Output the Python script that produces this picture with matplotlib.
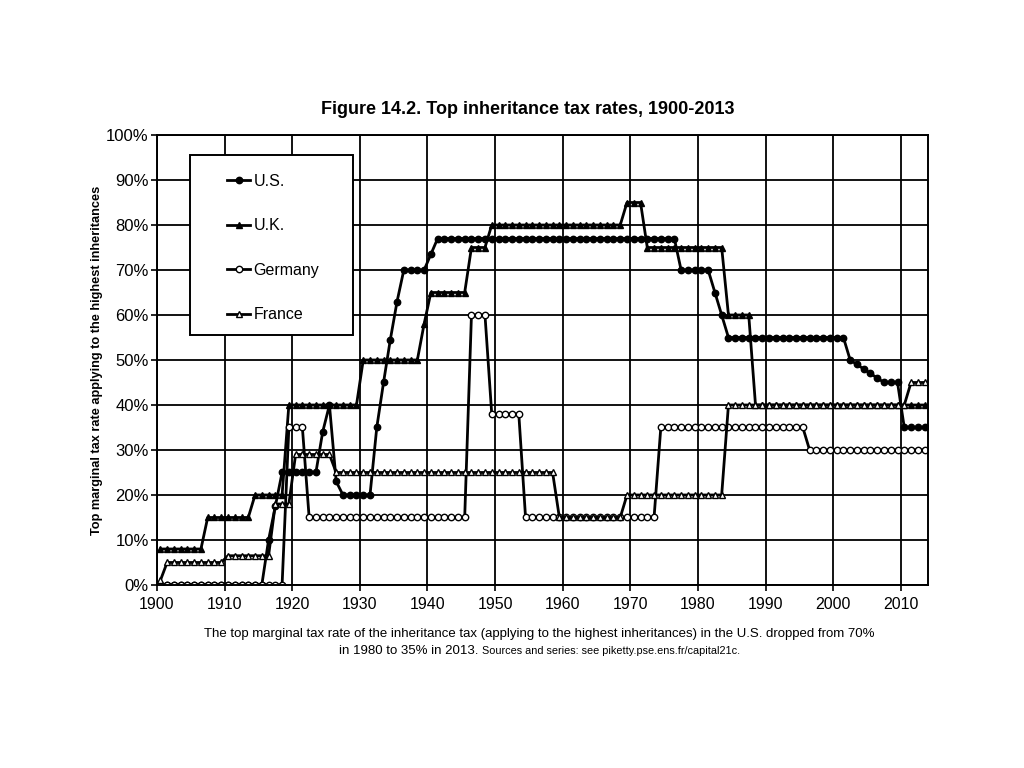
"""
Figure 14.2 - Top inheritance tax rates, 1900-2013 (U.S., U.K., Germany, France).
"""

import matplotlib

matplotlib.use("Agg")

import matplotlib.pyplot as plt
import numpy as np
from matplotlib import font_manager
from matplotlib.patches import Rectangle


# -----------------------------
# Data (top marginal inheritance tax rate, %, one value per year 1900-2013)
# -----------------------------
YEARS = list(range(1900, 2014))

US = [
    0, 0, 0, 0, 0, 0, 0, 0, 0, 0,                      # 1900s
    0, 0, 0, 0, 0, 0, 10, 17.5, 25, 25,                # 1910s
    25, 25, 25, 25, 34, 40, 23, 20, 20, 20,            # 1920s
    20, 20, 35, 45, 54.5, 63, 70, 70, 70, 70,          # 1930s
    73.5, 77, 77, 77, 77, 77, 77, 77, 77, 77,          # 1940s
    77, 77, 77, 77, 77, 77, 77, 77, 77, 77,            # 1950s
    77, 77, 77, 77, 77, 77, 77, 77, 77, 77,            # 1960s
    77, 77, 77, 77, 77, 77, 77, 70, 70, 70,            # 1970s
    70, 70, 65, 60, 55, 55, 55, 55, 55, 55,            # 1980s
    55, 55, 55, 55, 55, 55, 55, 55, 55, 55,            # 1990s
    55, 55, 50, 49, 48, 47, 46, 45, 45, 45,            # 2000s
    35, 35, 35, 35,                                    # 2010-2013
]

UK = [
    8, 8, 8, 8, 8, 8, 8, 15, 15, 15,
    15, 15, 15, 15, 20, 20, 20, 20, 20, 40,
    40, 40, 40, 40, 40, 40, 40, 40, 40, 40,
    50, 50, 50, 50, 50, 50, 50, 50, 50, 58,
    65, 65, 65, 65, 65, 65, 75, 75, 75, 80,
    80, 80, 80, 80, 80, 80, 80, 80, 80, 80,
    80, 80, 80, 80, 80, 80, 80, 80, 80, 85,
    85, 85, 75, 75, 75, 75, 75, 75, 75, 75,
    75, 75, 75, 75, 60, 60, 60, 60, 40, 40,
    40, 40, 40, 40, 40, 40, 40, 40, 40, 40,
    40, 40, 40, 40, 40, 40, 40, 40, 40, 40,
    40, 40, 40, 40,
]

GERMANY = [
    0, 0, 0, 0, 0, 0, 0, 0, 0, 0,
    0, 0, 0, 0, 0, 0, 0, 0, 0, 35,
    35, 35, 15, 15, 15, 15, 15, 15, 15, 15,
    15, 15, 15, 15, 15, 15, 15, 15, 15, 15,
    15, 15, 15, 15, 15, 15, 60, 60, 60, 38,
    38, 38, 38, 38, 15, 15, 15, 15, 15, 15,
    15, 15, 15, 15, 15, 15, 15, 15, 15, 15,
    15, 15, 15, 15, 35, 35, 35, 35, 35, 35,
    35, 35, 35, 35, 35, 35, 35, 35, 35, 35,
    35, 35, 35, 35, 35, 35, 30, 30, 30, 30,
    30, 30, 30, 30, 30, 30, 30, 30, 30, 30,
    30, 30, 30, 30,
]

FRANCE = [
    1, 5, 5, 5, 5, 5, 5, 5, 5, 5,
    6.5, 6.5, 6.5, 6.5, 6.5, 6.5, 6.5, 18, 18, 18,
    29, 29, 29, 29, 29, 29, 25, 25, 25, 25,
    25, 25, 25, 25, 25, 25, 25, 25, 25, 25,
    25, 25, 25, 25, 25, 25, 25, 25, 25, 25,
    25, 25, 25, 25, 25, 25, 25, 25, 25, 15,
    15, 15, 15, 15, 15, 15, 15, 15, 15, 20,
    20, 20, 20, 20, 20, 20, 20, 20, 20, 20,
    20, 20, 20, 20, 40, 40, 40, 40, 40, 40,
    40, 40, 40, 40, 40, 40, 40, 40, 40, 40,
    40, 40, 40, 40, 40, 40, 40, 40, 40, 40,
    40, 45, 45, 45,
]

DECADES = list(range(1900, 2011, 10))
Y_TICKS = list(range(0, 101, 10))

TITLE = "Figure 14.2. Top inheritance tax rates, 1900-2013"
Y_LABEL = "Top marginal tax rate applying to the highest inheritances"
NOTE_1 = ("The top marginal tax rate of the inheritance tax (applying to the highest "
          "inheritances) in the U.S. dropped from 70%")
NOTE_2A = "in 1980 to 35% in 2013. "
NOTE_2B = "Sources and series: see piketty.pse.ens.fr/capital21c."


def pick_font() -> str:
    names = {f.name for f in font_manager.fontManager.ttflist}
    for name in ("Liberation Sans Narrow", "Liberation Sans", "DejaVu Sans"):
        if name in names:
            return name
    return "DejaVu Sans"


FONT = pick_font()
plt.rcParams["font.family"] = [FONT, "DejaVu Sans"]


def main() -> None:
    fig = plt.figure(figsize=(10.24, 7.68), dpi=100)
    ax = fig.add_axes([0.1533, 0.2383, 0.7529, 0.5859])

    x = np.array(YEARS)
    common = dict(color="black", lw=2.0, markersize=4.6, markeredgewidth=1.0)
    ax.plot(x, US, marker="o", markerfacecolor="black", label="U.S.", **common)
    ax.plot(x, UK, marker="^", markerfacecolor="black", label="U.K.", **common)
    ax.plot(x, GERMANY, marker="o", markerfacecolor="white", label="Germany", **common)
    ax.plot(x, FRANCE, marker="^", markerfacecolor="white", label="France", **common)

    # category-style axis: gridlines on category boundaries, points at centres
    ax.set_xlim(YEARS[0] - 0.5, YEARS[-1] + 0.5)
    ax.set_ylim(0, 100)
    ax.set_xticks([d - 0.5 for d in DECADES])
    ax.set_xticklabels([str(d) for d in DECADES], fontsize=11.5)
    ax.set_yticks(Y_TICKS)
    ax.set_yticklabels([f"{v}%" for v in Y_TICKS], fontsize=12)
    ax.tick_params(axis="y", direction="out", length=4, width=1.2, color="black", pad=2)
    ax.tick_params(axis="x", direction="out", length=4, width=1.2, color="black", pad=5)
    ax.grid(True, color="black", lw=1.3)
    ax.set_axisbelow(True)
    for sp in ax.spines.values():
        sp.set_linewidth(1.4)
        sp.set_color("black")

    ax.set_ylabel(Y_LABEL, fontsize=9.2, fontweight="bold", labelpad=2)

    # legend: white box drawn separately, entries placed inside it
    box = Rectangle((0.0428, 0.5556), 0.2114, 0.40, transform=ax.transAxes,
                    facecolor="white", edgecolor="black", lw=1.4, zorder=5)
    ax.add_patch(box)
    leg = ax.legend(
        loc="upper left",
        bbox_to_anchor=(0.0908, 0.914),
        fontsize=11.5,
        frameon=False,
        labelspacing=1.85,
        handlelength=1.45,
        handletextpad=0.2,
        borderpad=0,
        borderaxespad=0,
    )
    leg.set_zorder(6)

    fig.text(0.515, 0.852, TITLE, ha="center", va="baseline",
             fontsize=13, fontweight="bold")

    fig.text(0.527, 0.170, NOTE_1, ha="center", va="baseline", fontsize=9.5)

    renderer = fig.canvas.get_renderer()
    t_a = fig.text(0, 0.148, NOTE_2A, ha="left", va="baseline", fontsize=9.5)
    t_b = fig.text(0, 0.148, NOTE_2B, ha="left", va="baseline", fontsize=7.8)
    w_a = t_a.get_window_extent(renderer).width / fig.bbox.width
    w_b = t_b.get_window_extent(renderer).width / fig.bbox.width
    x0 = 0.527 - (w_a + w_b) / 2
    t_a.set_x(x0)
    t_b.set_x(x0 + w_a)

    fig.savefig("out.png", dpi=100)
    plt.close(fig)


if __name__ == "__main__":
    main()
